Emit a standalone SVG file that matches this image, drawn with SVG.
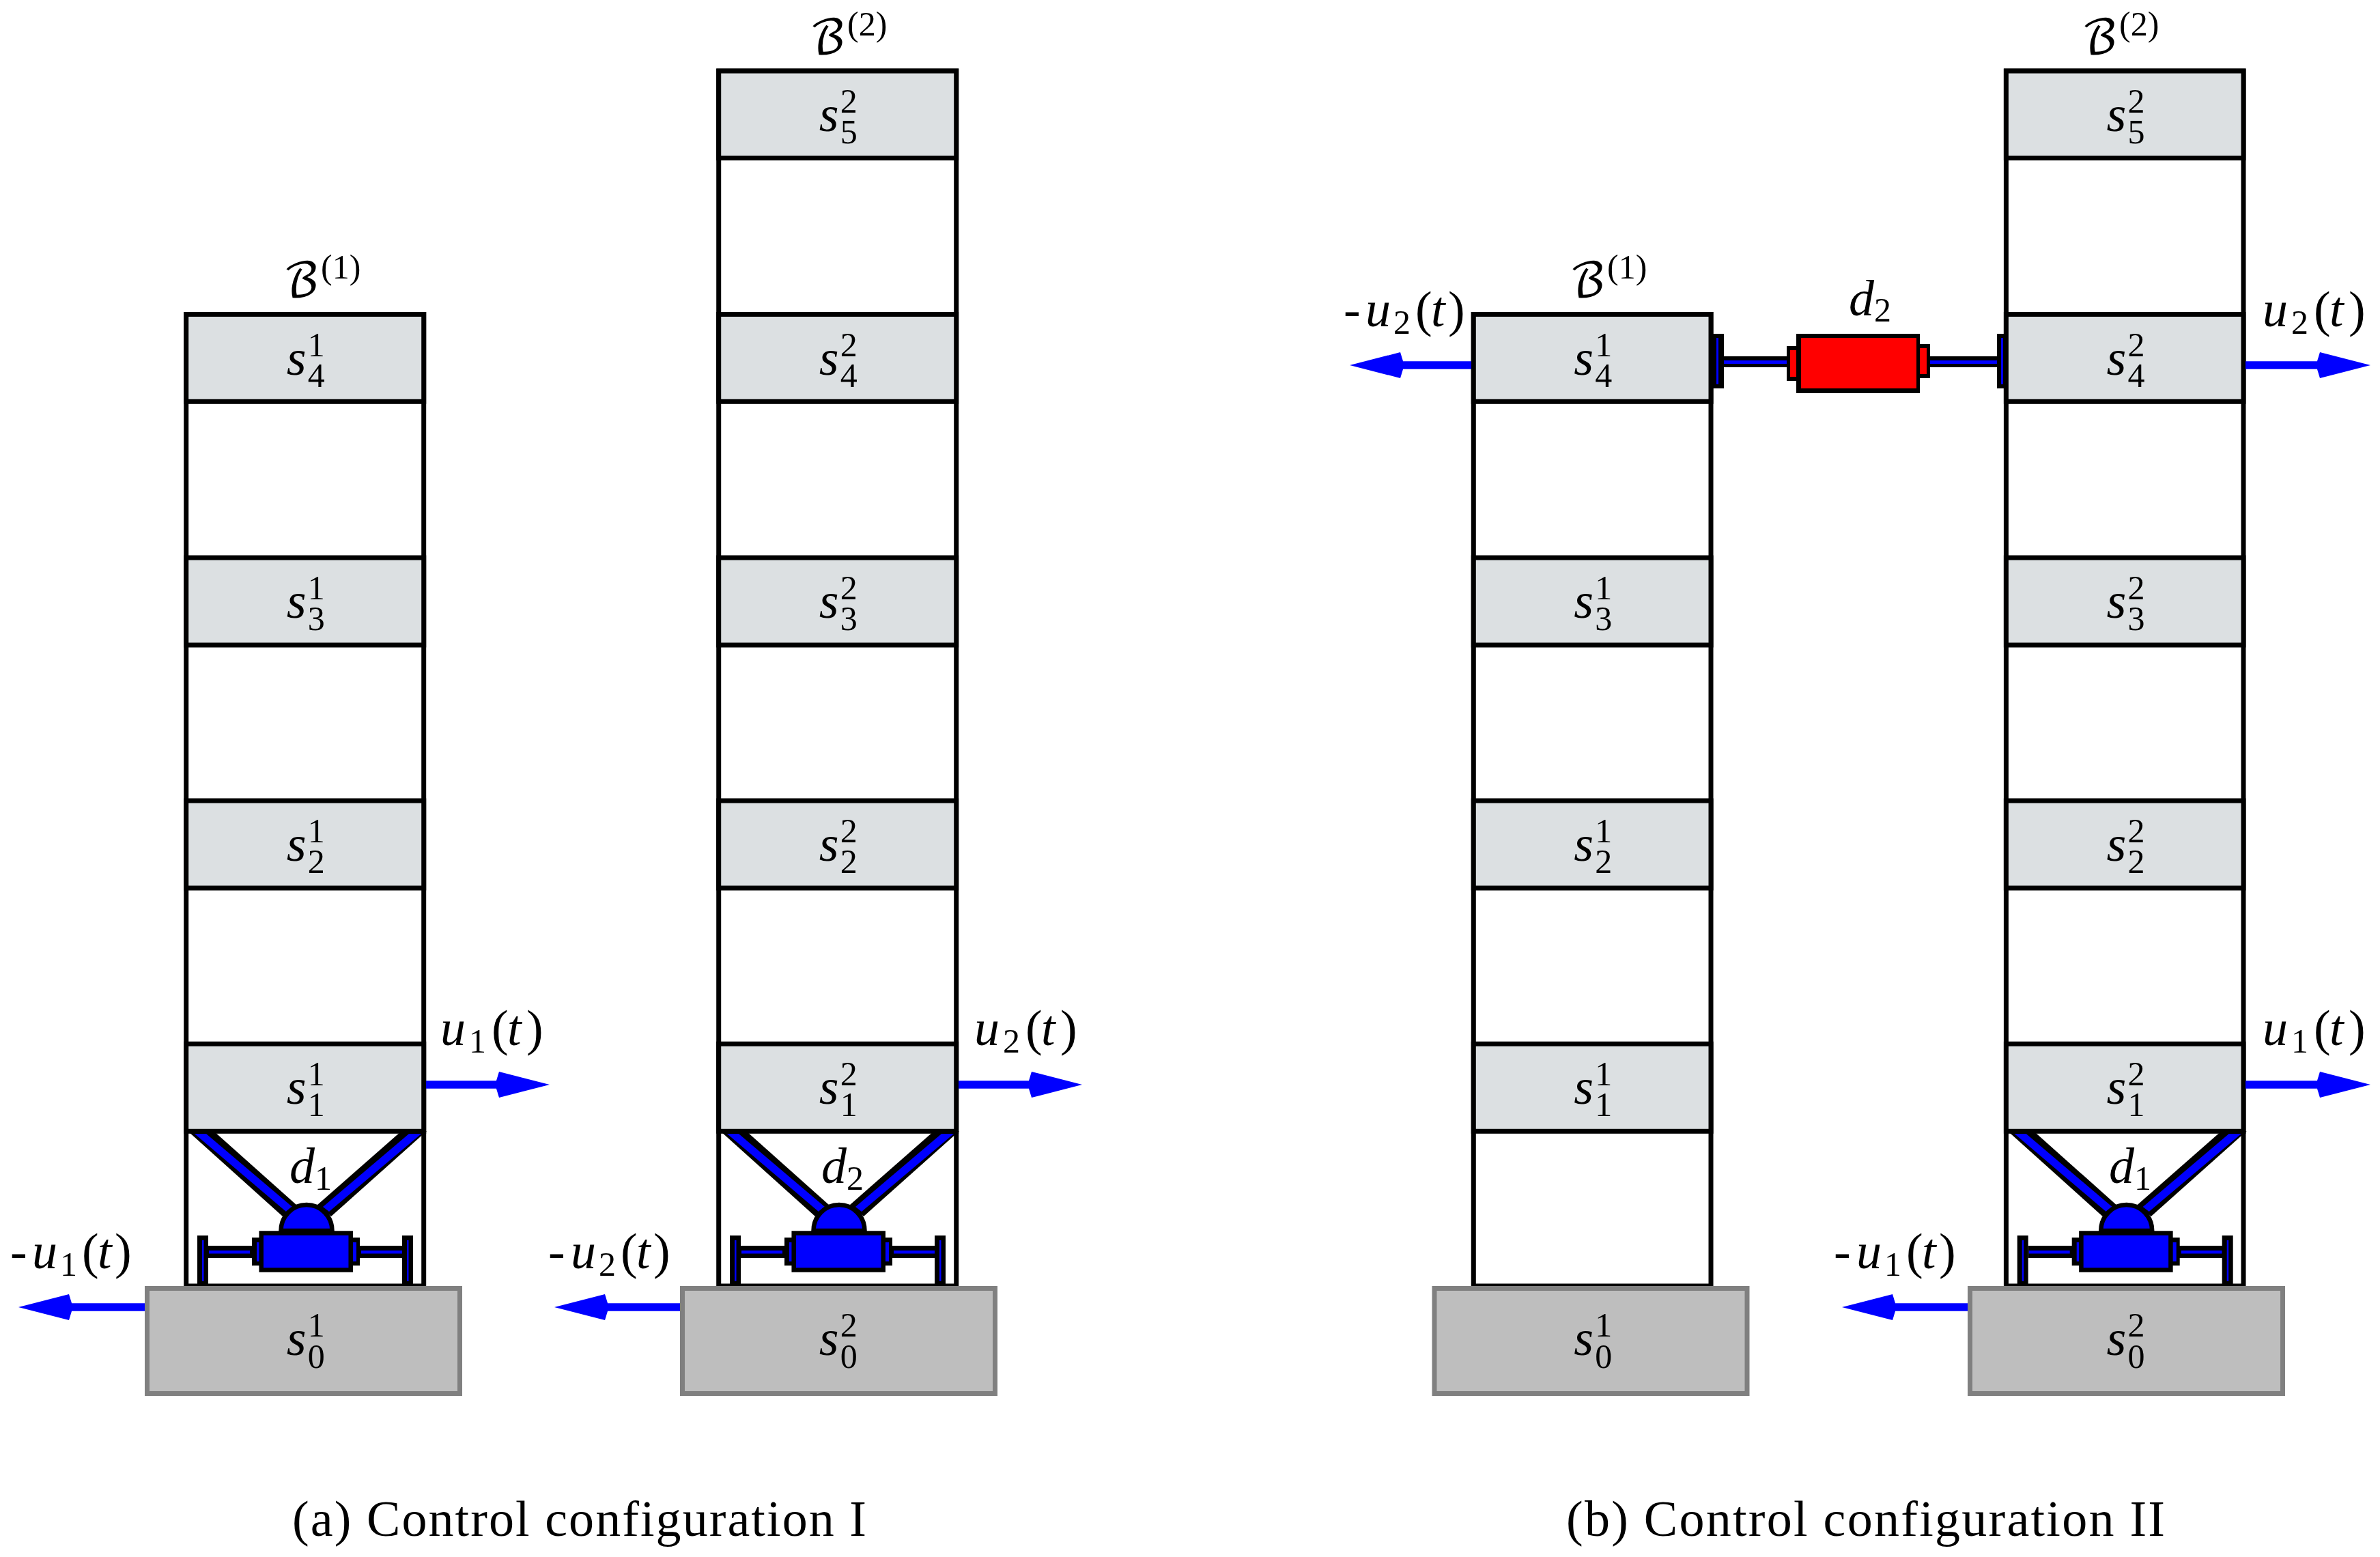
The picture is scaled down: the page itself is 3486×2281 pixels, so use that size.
<svg xmlns="http://www.w3.org/2000/svg" xmlns:xlink="http://www.w3.org/1999/xlink" width="3486" height="2281" viewBox="0 0 3486 2281">
<style>
text{font-family:"Liberation Serif","DejaVu Serif",serif;fill:#000}
.m{font-style:italic;font-size:74px}
.r{font-size:74px}
.n{font-size:50px;font-style:normal}
.cal{font-family:"DejaVu Math TeX Gyre","DejaVu Sans",serif;font-size:68px}
.cap{font-size:74px}
.frame{fill:#fff;stroke:#000;stroke-width:7}
.floor{fill:#dce0e2;stroke:#000;stroke-width:7}
.base{fill:#bebebe;stroke:#808080;stroke-width:7}
.k{fill:#000}
.b{fill:#00f}
.red{fill:#f00}
.cyl{fill:#00f;stroke:#000;stroke-width:6.5}
.arrow{stroke:#00f;stroke-width:11.5;fill:none;marker-end:url(#head)}
</style>
<defs>
<marker id="head" markerUnits="userSpaceOnUse" markerWidth="80" markerHeight="40" refX="1" refY="20" orient="auto"><path d="M4 1L78 20L4 39L0 26L0 14Z" fill="#00f"/></marker>
<g id="damperV">
<polygon class="k" points="275,1657 313,1657 434,1765 414,1782"/>
<polygon class="b" points="285,1661 302,1661 428,1768 419,1775"/>
<polygon class="k" points="588,1657 625,1657 485,1782 465,1765"/>
<polygon class="b" points="599,1661 617,1661 482,1775 473,1768"/>
<path class="cyl" d="M411.5 1803A37.5 38 0 0 1 486.5 1803Z"/>
<rect class="k" x="305" y="1825" width="66" height="18"/><rect class="b" x="306" y="1832" width="60" height="4.5"/>
<rect class="k" x="525" y="1825" width="66" height="18"/><rect class="b" x="529" y="1832" width="60" height="4.5"/>
<rect class="k" x="289" y="1810" width="16" height="74"/><rect class="b" x="296" y="1817" width="2.5" height="60"/>
<rect class="k" x="589" y="1810" width="16" height="74"/><rect class="b" x="596" y="1817" width="2.5" height="60"/>
<rect class="k" x="369" y="1813" width="14" height="41"/><rect class="b" x="376" y="1820" width="6" height="28"/>
<rect class="k" x="515" y="1813" width="12" height="41"/><rect class="b" x="515" y="1820" width="7" height="28"/>
<rect class="cyl" x="382.7" y="1806.5" width="131" height="54"/>
</g>
</defs>
<rect width="3486" height="2281" fill="#fff"/>

<g id="tower-a1-frame"><rect class="frame" x="272.7" y="460.5" width="348" height="1423.5"/></g>
<g id="tower-a2-frame"><rect class="frame" x="1052.7" y="104" width="348" height="1780"/></g>
<g id="tower-b1-frame"><rect class="frame" x="2158.3" y="460.5" width="347.7" height="1423.5"/></g>
<g id="tower-b2-frame"><rect class="frame" x="2938.4" y="104" width="347.6" height="1780"/></g>

<g id="a1-s4"><rect class="floor" x="272.7" y="460.5" width="348" height="127.8"/><text><tspan class="m" x="419.7" y="548.5">s</tspan><tspan class="n" x="450.7" y="521.5">1</tspan><tspan class="n" x="450.7" y="566.5">4</tspan></text></g>
<g id="a1-s3"><rect class="floor" x="272.7" y="817" width="348" height="128"/><text><tspan class="m" x="419.7" y="905">s</tspan><tspan class="n" x="450.7" y="878">1</tspan><tspan class="n" x="450.7" y="923">3</tspan></text></g>
<g id="a1-s2"><rect class="floor" x="272.7" y="1173" width="348" height="128"/><text><tspan class="m" x="419.7" y="1261">s</tspan><tspan class="n" x="450.7" y="1234">1</tspan><tspan class="n" x="450.7" y="1279">2</tspan></text></g>
<g id="a1-s1"><rect class="floor" x="272.7" y="1529.3" width="348" height="128"/><text><tspan class="m" x="419.7" y="1617">s</tspan><tspan class="n" x="450.7" y="1590">1</tspan><tspan class="n" x="450.7" y="1635">1</tspan></text></g>

<g id="a2-s5"><rect class="floor" x="1052.7" y="104" width="348" height="127.5"/><text><tspan class="m" x="1199.7" y="192">s</tspan><tspan class="n" x="1230.7" y="165">2</tspan><tspan class="n" x="1230.7" y="210">5</tspan></text></g>
<g id="a2-s4"><rect class="floor" x="1052.7" y="460.5" width="348" height="127.8"/><text><tspan class="m" x="1199.7" y="548.5">s</tspan><tspan class="n" x="1230.7" y="521.5">2</tspan><tspan class="n" x="1230.7" y="566.5">4</tspan></text></g>
<g id="a2-s3"><rect class="floor" x="1052.7" y="817" width="348" height="128"/><text><tspan class="m" x="1199.7" y="905">s</tspan><tspan class="n" x="1230.7" y="878">2</tspan><tspan class="n" x="1230.7" y="923">3</tspan></text></g>
<g id="a2-s2"><rect class="floor" x="1052.7" y="1173" width="348" height="128"/><text><tspan class="m" x="1199.7" y="1261">s</tspan><tspan class="n" x="1230.7" y="1234">2</tspan><tspan class="n" x="1230.7" y="1279">2</tspan></text></g>
<g id="a2-s1"><rect class="floor" x="1052.7" y="1529.3" width="348" height="128"/><text><tspan class="m" x="1199.7" y="1617">s</tspan><tspan class="n" x="1230.7" y="1590">2</tspan><tspan class="n" x="1230.7" y="1635">1</tspan></text></g>

<g id="b1-s4"><rect class="floor" x="2158.3" y="460.5" width="347.7" height="127.8"/><text><tspan class="m" x="2305.3" y="548.5">s</tspan><tspan class="n" x="2336.3" y="521.5">1</tspan><tspan class="n" x="2336.3" y="566.5">4</tspan></text></g>
<g id="b1-s3"><rect class="floor" x="2158.3" y="817" width="347.7" height="128"/><text><tspan class="m" x="2305.3" y="905">s</tspan><tspan class="n" x="2336.3" y="878">1</tspan><tspan class="n" x="2336.3" y="923">3</tspan></text></g>
<g id="b1-s2"><rect class="floor" x="2158.3" y="1173" width="347.7" height="128"/><text><tspan class="m" x="2305.3" y="1261">s</tspan><tspan class="n" x="2336.3" y="1234">1</tspan><tspan class="n" x="2336.3" y="1279">2</tspan></text></g>
<g id="b1-s1"><rect class="floor" x="2158.3" y="1529.3" width="347.7" height="128"/><text><tspan class="m" x="2305.3" y="1617">s</tspan><tspan class="n" x="2336.3" y="1590">1</tspan><tspan class="n" x="2336.3" y="1635">1</tspan></text></g>

<g id="b2-s5"><rect class="floor" x="2938.4" y="104" width="347.6" height="127.5"/><text><tspan class="m" x="3085.4" y="192">s</tspan><tspan class="n" x="3116.4" y="165">2</tspan><tspan class="n" x="3116.4" y="210">5</tspan></text></g>
<g id="b2-s4"><rect class="floor" x="2938.4" y="460.5" width="347.6" height="127.8"/><text><tspan class="m" x="3085.4" y="548.5">s</tspan><tspan class="n" x="3116.4" y="521.5">2</tspan><tspan class="n" x="3116.4" y="566.5">4</tspan></text></g>
<g id="b2-s3"><rect class="floor" x="2938.4" y="817" width="347.6" height="128"/><text><tspan class="m" x="3085.4" y="905">s</tspan><tspan class="n" x="3116.4" y="878">2</tspan><tspan class="n" x="3116.4" y="923">3</tspan></text></g>
<g id="b2-s2"><rect class="floor" x="2938.4" y="1173" width="347.6" height="128"/><text><tspan class="m" x="3085.4" y="1261">s</tspan><tspan class="n" x="3116.4" y="1234">2</tspan><tspan class="n" x="3116.4" y="1279">2</tspan></text></g>
<g id="b2-s1"><rect class="floor" x="2938.4" y="1529.3" width="347.6" height="128"/><text><tspan class="m" x="3085.4" y="1617">s</tspan><tspan class="n" x="3116.4" y="1590">2</tspan><tspan class="n" x="3116.4" y="1635">1</tspan></text></g>

<g id="a1-damper"><use xlink:href="#damperV" href="#damperV"/><text><tspan class="m" x="424" y="1733">d</tspan><tspan class="n" x="461" y="1743">1</tspan></text></g>
<g id="a2-damper"><use xlink:href="#damperV" href="#damperV" transform="translate(780 0)"/><text><tspan class="m" x="1203" y="1733">d</tspan><tspan class="n" x="1240" y="1743">2</tspan></text></g>
<g id="b2-damper"><use xlink:href="#damperV" href="#damperV" transform="translate(2665.7 0)"/><text><tspan class="m" x="3089" y="1733">d</tspan><tspan class="n" x="3126" y="1743">1</tspan></text></g>

<g id="b-damper-red">
<rect class="k" x="2525" y="522" width="93" height="16"/><rect class="b" x="2525" y="528" width="93" height="5"/>
<rect class="k" x="2827" y="522" width="100" height="16"/><rect class="b" x="2827" y="528" width="100" height="5"/>
<rect class="k" x="2507" y="489" width="18" height="80"/><rect class="b" x="2514" y="495" width="3" height="68"/>
<rect class="k" x="2925" y="489" width="12" height="80"/><rect class="b" x="2931" y="495" width="3" height="68"/>
<rect class="k" x="2617" y="507" width="16" height="51"/><rect class="red" x="2622" y="513" width="11" height="39"/>
<rect class="k" x="2812" y="504" width="15" height="50"/><rect class="red" x="2812" y="510" width="10" height="38"/>
<rect class="k" x="2631" y="489" width="181" height="87"/><rect class="red" x="2638" y="495" width="169" height="74"/>
<text><tspan class="m" x="2708" y="462">d</tspan><tspan class="n" x="2745" y="471">2</tspan></text>
</g>

<g id="a1-s0"><rect class="base" x="215.5" y="1887.5" width="458" height="154"/><text><tspan class="m" x="419.7" y="1985">s</tspan><tspan class="n" x="450.7" y="1958">1</tspan><tspan class="n" x="450.7" y="2004">0</tspan></text></g>
<g id="a2-s0"><rect class="base" x="999.5" y="1887.5" width="458" height="154"/><text><tspan class="m" x="1199.7" y="1985">s</tspan><tspan class="n" x="1230.7" y="1958">2</tspan><tspan class="n" x="1230.7" y="2004">0</tspan></text></g>
<g id="b1-s0"><rect class="base" x="2101" y="1887.5" width="458" height="154"/><text><tspan class="m" x="2305.3" y="1985">s</tspan><tspan class="n" x="2336.3" y="1958">1</tspan><tspan class="n" x="2336.3" y="2004">0</tspan></text></g>
<g id="b2-s0"><rect class="base" x="2885.5" y="1887.5" width="458" height="154"/><text><tspan class="m" x="3085.4" y="1985">s</tspan><tspan class="n" x="3116.4" y="1958">2</tspan><tspan class="n" x="3116.4" y="2004">0</tspan></text></g>

<g id="connectors">
<line class="arrow" x1="624" y1="1589" x2="728" y2="1589"/>
<line class="arrow" x1="212" y1="1915" x2="104" y2="1915"/>
<line class="arrow" x1="1404" y1="1589" x2="1508" y2="1589"/>
<line class="arrow" x1="996" y1="1915" x2="889" y2="1915"/>
<line class="arrow" x1="2155" y1="535" x2="2054" y2="535"/>
<line class="arrow" x1="3289" y1="535" x2="3395" y2="535"/>
<line class="arrow" x1="3289" y1="1589" x2="3395" y2="1589"/>
<line class="arrow" x1="2882" y1="1915" x2="2775" y2="1915"/>
</g>

<g id="labels">
<text><tspan class="cal" x="414" y="434">ℬ</tspan><tspan class="n" x="470" y="408">(1)</tspan></text>
<text><tspan class="cal" x="1185" y="78">ℬ</tspan><tspan class="n" x="1241" y="52">(2)</tspan></text>
<text><tspan class="cal" x="2298" y="434">ℬ</tspan><tspan class="n" x="2354" y="408">(1)</tspan></text>
<text><tspan class="cal" x="3048" y="78">ℬ</tspan><tspan class="n" x="3104" y="52">(2)</tspan></text>

<text class="r" y="1531"><tspan class="m" x="645">u</tspan><tspan class="n" x="687" y="1542">1</tspan><tspan x="720" y="1531">(</tspan><tspan class="m" x="743">t</tspan><tspan x="771">)</tspan></text>
<text class="r" y="1531"><tspan class="m" x="1427">u</tspan><tspan class="n" x="1469" y="1542">2</tspan><tspan x="1502" y="1531">(</tspan><tspan class="m" x="1525">t</tspan><tspan x="1553">)</tspan></text>
<text class="r" y="1531"><tspan class="m" x="3314">u</tspan><tspan class="n" x="3356" y="1542">1</tspan><tspan x="3389" y="1531">(</tspan><tspan class="m" x="3412">t</tspan><tspan x="3440">)</tspan></text>
<text class="r" y="478"><tspan class="m" x="3314">u</tspan><tspan class="n" x="3356" y="489">2</tspan><tspan x="3389" y="478">(</tspan><tspan class="m" x="3412">t</tspan><tspan x="3440">)</tspan></text>

<text class="r" y="1858"><tspan x="15">-</tspan><tspan class="m" x="47">u</tspan><tspan class="n" x="88" y="1869">1</tspan><tspan x="120" y="1858">(</tspan><tspan class="m" x="143">t</tspan><tspan x="168">)</tspan></text>
<text class="r" y="1858"><tspan x="803">-</tspan><tspan class="m" x="836">u</tspan><tspan class="n" x="877" y="1869">2</tspan><tspan x="909" y="1858">(</tspan><tspan class="m" x="932">t</tspan><tspan x="957">)</tspan></text>
<text class="r" y="1858"><tspan x="2686">-</tspan><tspan class="m" x="2719">u</tspan><tspan class="n" x="2760" y="1869">1</tspan><tspan x="2792" y="1858">(</tspan><tspan class="m" x="2815">t</tspan><tspan x="2840">)</tspan></text>
<text class="r" y="478"><tspan x="1968">-</tspan><tspan class="m" x="2000">u</tspan><tspan class="n" x="2041" y="489">2</tspan><tspan x="2073" y="478">(</tspan><tspan class="m" x="2096">t</tspan><tspan x="2121">)</tspan></text>

<text class="cap" x="428" y="2250" textLength="841">(a) Control configuration I</text>
<text class="cap" x="2294" y="2250" textLength="877">(b) Control configuration II</text>
</g>
</svg>
